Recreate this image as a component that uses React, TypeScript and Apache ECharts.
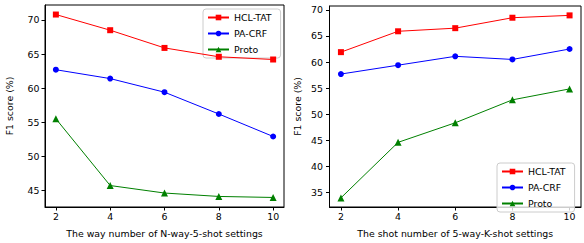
import React, { useEffect, useRef } from "react";
import * as echarts from "echarts";

const xValues = [2, 4, 6, 8, 10];
const xTicks = [2, 4, 6, 8, 10];
const seriesNames = ["HCL-TAT", "PA-CRF", "Proto"];

const leftHCL = [70.8, 68.5, 65.9, 64.6, 64.2];
const leftPACRF = [62.7, 61.4, 59.4, 56.2, 52.9];
const leftProto = [55.5, 45.7, 44.6, 44.1, 43.95];
const leftYTicks = [45, 50, 55, 60, 65, 70];

const rightHCL = [61.9, 65.9, 66.5, 68.5, 68.95];
const rightPACRF = [57.7, 59.4, 61.1, 60.5, 62.5];
const rightProto = [33.95, 44.6, 48.35, 52.75, 54.85];
const rightYTicks = [35, 40, 45, 50, 55, 60, 65, 70];

const colors = ["#ff0000", "#0000ff", "#008000"];
const symbols = ["rect", "circle", "triangle"];
const symbolSizes = [6, 6, 7];
const FONT = "DejaVu Sans";
const FS = 9.4;

export default function App() {
  const ref = useRef<HTMLDivElement>(null);
  useEffect(() => {
    if (!ref.current) return;
    const chart = echarts.init(ref.current, null, { renderer: "svg" });
    const pair = (arr: number[]) => xValues.map((x, i) => [x, arr[i]]);
    const mkSeries = (data: number[][], idx: number, k: number) => ({
      type: "line",
      name: seriesNames[k],
      xAxisIndex: idx,
      yAxisIndex: idx,
      data,
      symbol: symbols[k],
      symbolSize: symbolSizes[k],
      itemStyle: { color: colors[k] },
      lineStyle: { color: colors[k], width: 1 },
      z: 3 + (2 - k),
    });
    const xAxisBase = (idx: number, name: string) => ({
      type: "value",
      gridIndex: idx,
      min: 1.6,
      max: 10.4,
      name,
      nameLocation: "middle",
      nameGap: 22,
      nameTextStyle: { fontFamily: FONT, fontSize: FS, color: "#000" },
      axisLine: { show: true, onZero: false, lineStyle: { color: "#000", width: 1 } },
      axisTick: { show: true, length: 3.5, customValues: xTicks, lineStyle: { color: "#000" } },
      axisLabel: { customValues: xTicks, margin: 5, fontFamily: FONT, fontSize: FS, color: "#000" },
      splitLine: { show: false },
    });
    const yAxisBase = (idx: number, min: number, max: number, ticks: number[], nameGap: number, margin: number) => ({
      type: "value",
      gridIndex: idx,
      min,
      max,
      name: "F1 score (%)",
      nameLocation: "middle",
      nameGap,
      nameRotate: 90,
      nameTextStyle: { fontFamily: FONT, fontSize: FS, color: "#000" },
      axisLine: { show: true, onZero: false, lineStyle: { color: "#000", width: 1 } },
      axisTick: { show: true, length: 3.5, customValues: ticks, lineStyle: { color: "#000" } },
      axisLabel: { customValues: ticks, margin, fontFamily: FONT, fontSize: FS, color: "#000" },
      splitLine: { show: false },
    });
    const legendBase = (left: number, top: number) => ({
      orient: "vertical",
      left,
      top,
      data: seriesNames,
      itemWidth: 21,
      itemHeight: 7,
      itemGap: 7,
      padding: [4, 9, 4, 4],
      borderColor: "#cccccc",
      borderWidth: 1,
      borderRadius: 3,
      backgroundColor: "rgba(255,255,255,0.8)",
      textStyle: { fontFamily: FONT, fontSize: FS, color: "#000" },
      selectedMode: false,
    });
    chart.setOption({
      animation: false,
      grid: [
        { left: 45, top: 5, width: 239, height: 207, show: true, borderColor: "#000", borderWidth: 1, backgroundColor: "transparent" },
        { left: 329.5, top: 6, width: 251.5, height: 205.3, show: true, borderColor: "#000", borderWidth: 1, backgroundColor: "transparent" },
      ],
      xAxis: [
        xAxisBase(0, "The way number of N-way-5-shot settings"),
        xAxisBase(1, "The shot number of 5-way-K-shot settings"),
      ],
      yAxis: [
        yAxisBase(0, 42.55, 72.2, leftYTicks, 31, 5.5),
        yAxisBase(1, 32.2, 70.75, rightYTicks, 28, 6.5),
      ],
      legend: [legendBase(203, 9), legendBase(497, 163)],
      series: [
        mkSeries(pair(leftHCL), 0, 0),
        mkSeries(pair(leftPACRF), 0, 1),
        mkSeries(pair(leftProto), 0, 2),
        mkSeries(pair(rightHCL), 1, 0),
        mkSeries(pair(rightPACRF), 1, 1),
        mkSeries(pair(rightProto), 1, 2),
      ],
    });
    return () => chart.dispose();
  }, []);
  return <div ref={ref} style={{ width: 584, height: 243, position: "absolute", left: 0, top: 0 }} />;
}
